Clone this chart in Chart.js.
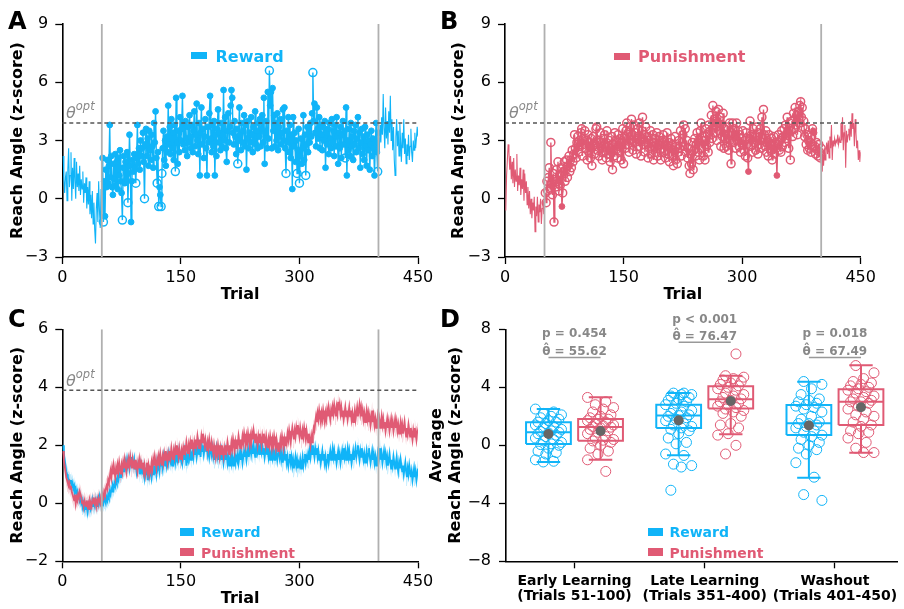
<!DOCTYPE html>
<html>
<head>
<meta charset="utf-8">
<script src="https://cdn.jsdelivr.net/npm/chart.js@4.4.1/dist/chart.umd.min.js"></script>
<style>
  body { margin: 0; background: #fff; }
  #fig { position: relative; width: 904px; height: 609px; overflow: hidden; font-family: "DejaVu Sans", sans-serif; }
  #fig canvas { position: absolute; }
  .txt { position: absolute; line-height: 1; white-space: nowrap; }
  .letter { font-size: 24px; font-weight: bold; color: #000; }
  .theta { font-size: 16px; font-style: italic; color: #888; }
  .theta span { font-size: 11.5px; position: relative; top: -7.5px; }
  .leg { font-weight: bold; }
  .sw { position: absolute; }
  .pval { font-size: 12px; font-weight: bold; color: #888; transform: translateX(-50%); }
</style>
</head>
<body>
<div id="fig">
  <canvas id="chartA" width="452" height="310" style="left:0;top:0"></canvas>
  <canvas id="chartB" width="464" height="310" style="left:440px;top:0"></canvas>
  <canvas id="chartC" width="452" height="309" style="left:0;top:300px"></canvas>
  <canvas id="chartD" width="484" height="309" style="left:420px;top:300px"></canvas>

  <div class="txt letter" style="left:8px;top:9px">A</div>
  <div class="txt letter" style="left:440px;top:9px">B</div>
  <div class="txt letter" style="left:8px;top:306.5px">C</div>
  <div class="txt letter" style="left:440px;top:306.5px">D</div>

  <div class="txt theta" style="left:66px;top:104.5px">θ<span>opt</span></div>
  <div class="txt theta" style="left:509px;top:104.5px">θ<span>opt</span></div>
  <div class="txt theta" style="left:66px;top:372.5px">θ<span>opt</span></div>

  <div class="sw" style="left:191px;top:52.3px;width:16px;height:7px;background:#10b4f8"></div>
  <div class="txt leg" style="left:215.5px;top:48.6px;font-size:16px;color:#10b4f8">Reward</div>
  <div class="sw" style="left:614px;top:53.3px;width:16px;height:7px;background:#e05a74"></div>
  <div class="txt leg" style="left:638px;top:48.8px;font-size:16px;color:#e05a74">Punishment</div>

  <div class="sw" style="left:180px;top:527.7px;width:14.3px;height:8px;background:#10b4f8"></div>
  <div class="txt leg" style="left:201px;top:525px;font-size:14px;color:#10b4f8">Reward</div>
  <div class="sw" style="left:180px;top:548.3px;width:14.3px;height:8px;background:#e05a74"></div>
  <div class="txt leg" style="left:201px;top:545.6px;font-size:14px;color:#e05a74">Punishment</div>

  <div class="sw" style="left:647.7px;top:527.7px;width:15px;height:8px;background:#10b4f8"></div>
  <div class="txt leg" style="left:669.4px;top:525px;font-size:14px;color:#10b4f8">Reward</div>
  <div class="sw" style="left:647.7px;top:548.3px;width:15px;height:8px;background:#e05a74"></div>
  <div class="txt leg" style="left:669.4px;top:545.6px;font-size:14px;color:#e05a74">Punishment</div>
</div>

<script>
// trial numbers and task phases
const trials = Array.from({ length: 450 }, (_, i) => i + 1);
const phaseBounds = [50, 400];
const thetaOpt = 3.9;

// panel A: single reward participant
const rewardReach = [
  2.2,1.0,0.3,1.1,1.4,-0.1,1.5,2.6,0.6,1.2,
  2.4,-0.1,1.6,0.5,2.1,0.9,0.0,1.9,0.6,1.3,
  0.4,1.7,0.2,1.0,0.5,1.4,-0.2,0.8,0.3,1.1,
  -0.5,0.6,-0.3,0.9,-0.8,0.2,-1.0,0.4,-1.3,-0.2,
  -1.6,-2.3,-0.5,0.3,-1.2,0.9,-0.6,-1.5,0.5,-0.8,
  2.1,-1.2,0.9,-0.9,1.5,0.6,2.0,0.8,1.7,3.8,
  1.1,2.2,0.6,0.2,1.8,1.0,2.3,0.7,1.9,0.5,
  2.1,1.2,2.5,0.9,0.3,-1.1,1.6,2.2,0.8,1.9,
  1.0,2.4,-0.2,1.3,3.3,1.7,-1.2,0.9,2.0,1.4,
  2.3,1.6,0.8,2.1,3.8,1.8,2.6,1.5,3.0,2.2,
  2.6,3.4,1.9,0.0,2.8,3.6,2.2,3.1,1.7,3.5,
  2.5,2.0,3.3,2.7,1.6,3.9,2.9,4.5,2.1,0.8,
  2.4,-0.4,0.6,0.2,-0.4,1.3,2.6,3.5,2.0,3.0,
  1.7,3.2,2.4,4.8,2.8,3.7,2.3,4.1,2.6,3.4,
  2.0,3.8,1.4,5.2,2.9,1.8,3.5,2.4,4.2,3.0,
  3.6,5.3,2.8,3.9,2.5,4.0,3.1,2.2,3.7,2.9,
  4.3,3.2,2.6,3.8,2.4,3.5,4.5,2.7,3.3,4.9,
  3.0,2.3,3.9,1.2,3.4,4.7,2.8,3.6,2.1,3.2,
  4.1,2.6,1.2,3.7,2.9,4.4,5.3,3.1,2.4,3.8,
  2.7,4.0,1.2,3.3,2.2,3.6,4.6,2.9,3.4,2.5,
  3.9,2.7,3.3,5.6,3.0,4.2,2.6,1.9,3.5,4.4,
  2.9,3.7,4.8,5.6,5.2,3.4,2.8,4.0,3.2,2.3,
  3.6,1.8,3.0,4.7,3.3,2.5,3.9,2.9,3.5,4.3,
  2.7,3.8,1.5,3.1,4.0,2.6,3.4,2.9,4.2,3.3,
  2.4,3.7,3.0,4.5,2.8,3.5,2.6,3.9,3.2,4.1,
  2.7,3.6,4.3,2.9,5.2,1.8,3.4,4.0,2.6,5.5,
  3.1,6.6,4.8,5.5,2.6,5.7,3.5,4.3,2.7,3.9,
  3.0,4.4,2.5,3.7,3.2,4.1,2.8,3.4,4.6,3.0,
  4.7,2.6,1.3,3.5,2.9,4.2,2.4,3.8,2.1,3.3,
  0.5,4.2,2.7,3.4,1.9,3.0,1.3,2.5,3.6,0.8,
  2.2,3.1,1.8,2.6,4.3,2.0,3.3,1.2,2.8,3.7,
  2.4,3.5,2.9,3.9,3.2,4.4,6.5,4.0,4.9,3.4,
  2.7,4.7,3.6,3.1,4.2,2.6,3.8,3.3,2.5,3.7,
  3.0,4.0,1.6,3.4,2.8,3.6,2.3,3.9,3.1,2.6,
  4.1,2.9,3.5,2.2,3.8,2.7,4.2,3.2,1.8,3.4,
  2.6,3.7,2.1,3.3,4.0,2.8,3.5,2.1,4.7,1.2,
  3.0,2.5,3.6,2.2,3.9,2.7,3.2,2.0,3.5,2.8,
  3.8,2.4,3.1,4.2,2.6,3.4,1.6,2.9,3.6,2.3,
  3.2,2.0,3.7,2.7,1.7,3.3,2.5,3.0,1.5,2.8,
  3.5,2.2,3.1,2.6,1.2,2.9,3.9,2.4,1.4,3.4,
  2.4,3.8,2.9,4.2,3.3,5.4,3.6,2.6,4.7,3.1,
  4.0,2.8,4.5,3.4,5.3,3.0,4.1,2.5,3.7,2.0,
  1.2,3.2,4.1,2.7,3.5,2.2,3.9,2.9,1.9,3.4,
  2.6,4.1,2.3,3.1,1.8,2.8,2.2,3.3,2.0,2.7,
  3.6,2.4,1.9,3.0,2.5,3.4,2.6,3.1,3.7,3.2
];
const rewardOpenTrials = [52,76,83,93,104,120,122,125,126,143,222,262,283,297,300,308,317,358,399];

// panel B: single punishment participant
const punishReach = [
  -0.6,1.2,2.0,2.8,2.4,1.5,2.2,1.0,1.9,0.8,
  2.1,0.6,1.5,0.9,2.3,0.4,1.2,0.7,1.6,0.2,
  1.0,0.5,1.5,-0.1,1.3,0.3,0.9,-0.3,0.6,-0.5,
  0.4,-0.8,0.0,-1.0,-0.2,-0.6,0.1,-1.7,-0.4,-0.9,
  0.1,-1.2,-0.3,-0.7,0.0,-1.3,-0.5,-0.1,-0.8,0.3,
  0.3,-0.2,0.9,0.4,1.1,1.6,0.5,2.9,0.8,0.2,
  1.3,-1.2,1.0,0.6,1.5,0.9,1.9,0.4,1.2,0.7,
  1.6,-0.4,0.3,1.4,1.9,0.9,1.5,2.0,1.1,1.7,
  2.2,1.4,2.0,1.6,2.5,1.9,2.3,3.3,2.6,2.1,
  2.9,3.2,2.4,3.0,2.7,3.4,3.6,2.2,3.1,2.8,
  3.5,2.6,3.0,2.0,3.3,2.4,2.9,2.1,3.1,1.7,
  2.7,3.2,2.3,2.8,3.6,3.7,2.5,3.0,2.2,2.9,
  3.4,2.6,2.0,3.1,2.4,3.3,2.8,2.1,3.5,2.7,
  2.3,3.0,1.9,2.6,3.2,1.5,2.8,2.2,3.4,2.5,
  3.0,2.1,3.3,2.7,2.4,3.1,2.0,2.9,3.6,1.8,
  3.2,2.6,3.5,3.9,2.8,3.4,2.4,3.7,3.0,4.1,
  3.3,2.5,3.8,2.9,3.4,2.3,3.1,3.6,2.7,3.9,
  3.0,2.2,3.5,4.2,2.8,3.3,2.4,3.7,2.9,3.2,
  2.1,3.0,2.6,3.5,2.3,2.9,3.3,2.0,2.7,3.1,
  2.4,3.4,2.2,2.8,3.2,2.5,2.0,3.0,2.6,3.3,
  2.4,3.0,2.1,2.7,3.4,2.3,2.9,1.9,2.6,3.1,
  2.2,2.8,1.7,2.5,3.2,2.0,2.7,1.8,2.4,3.0,
  2.6,3.5,2.2,2.9,3.3,3.8,2.7,3.6,2.4,3.0,
  2.1,2.6,1.7,1.3,2.3,1.8,2.9,1.5,2.5,3.1,
  2.2,2.8,3.4,2.4,3.0,2.0,3.5,3.9,2.6,3.2,
  2.2,3.0,2.0,3.6,2.7,3.3,2.4,3.8,2.9,3.5,
  4.3,3.1,4.8,3.7,4.1,3.4,4.5,3.0,3.9,4.6,
  3.5,4.2,2.7,3.8,3.2,4.4,2.6,3.6,3.1,2.7,
  3.7,3.3,2.5,3.9,3.0,1.8,3.4,3.9,2.9,3.6,
  3.2,2.6,3.9,3.0,3.5,2.7,3.3,2.4,3.1,2.8,
  3.5,2.5,3.0,2.2,3.4,2.8,2.1,1.4,3.1,4.0,
  2.7,3.3,2.4,3.6,2.9,3.2,2.5,3.7,3.0,2.3,
  3.4,2.8,3.6,2.6,4.2,3.1,4.6,3.3,2.7,3.5,
  2.4,3.0,2.2,3.3,2.8,2.5,3.1,2.0,2.7,3.2,
  2.3,2.9,2.6,1.2,2.8,3.3,2.5,3.0,2.4,3.5,
  2.7,3.2,3.6,2.9,3.8,3.1,4.2,3.4,2.6,3.9,
  2.0,3.5,4.0,3.2,4.4,3.6,4.7,3.8,4.3,3.3,
  4.5,3.9,4.8,5.0,4.2,4.7,3.7,4.0,3.2,3.6,
  2.8,3.3,2.5,3.0,2.6,2.9,2.4,3.2,3.6,3.5,
  3.4,2.7,2.3,2.9,2.5,2.2,2.8,2.4,2.1,2.6,
  1.4,2.2,1.7,2.6,2.0,2.5,2.9,2.3,3.0,2.1,
  3.2,2.6,3.8,2.0,3.0,2.7,3.1,2.8,3.0,2.9,
  3.3,2.8,3.1,2.9,3.9,3.0,4.2,2.5,3.4,3.8,
  1.6,3.5,2.9,3.3,3.6,3.0,4.0,3.2,4.4,3.6,
  3.9,2.7,4.1,3.4,2.6,3.0,2.0,2.5,1.9,2.4
];
const punishFilledTrials = [72, 308, 344, 390, 391];

// panel C: group means
const rewardMeanReach = [
  2.0,1.7,1.5,1.3,1.1,1.0,0.9,0.8,0.8,0.7,
  0.8,0.6,0.7,0.5,0.6,0.4,0.5,0.3,0.4,0.2,
  0.3,0.1,0.2,0.0,0.1,-0.1,0.0,-0.2,-0.1,-0.2,
  -0.1,-0.3,-0.1,-0.2,0.0,-0.2,-0.1,0.1,-0.1,0.0,
  -0.1,0.1,0.0,-0.1,0.1,0.0,0.2,0.0,0.1,-0.1,
  0.1,0.0,0.2,0.1,0.0,0.2,0.1,0.3,0.2,0.4,
  0.3,0.5,0.4,0.6,0.5,0.7,0.6,0.8,0.7,0.9,
  0.8,1.0,0.9,1.1,1.0,1.2,1.1,1.3,1.2,1.4,
  1.2,1.5,1.3,1.4,1.2,1.5,1.3,1.6,1.4,1.3,
  1.5,1.2,1.4,1.1,1.3,1.2,1.4,1.0,1.3,1.1,
  1.2,1.0,1.3,0.9,1.1,1.0,1.2,0.8,1.1,0.9,
  1.0,1.2,0.9,1.1,1.0,1.3,1.1,1.2,1.0,1.4,
  1.2,1.3,1.1,1.5,1.3,1.4,1.2,1.6,1.4,1.3,
  1.5,1.3,1.6,1.4,1.7,1.5,1.4,1.6,1.3,1.7,
  1.5,1.8,1.4,1.6,1.5,1.7,1.4,1.8,1.6,1.5,
  1.7,1.4,1.6,1.8,1.5,1.7,1.3,1.6,1.5,1.8,
  1.6,1.9,1.5,1.7,1.8,1.6,2.0,1.7,1.9,1.6,
  1.8,2.0,1.7,1.9,1.6,2.1,1.8,2.0,1.7,1.9,
  2.1,1.8,2.0,1.7,1.9,1.6,1.8,2.0,1.7,1.9,
  1.6,1.8,1.5,1.7,1.9,1.6,1.8,1.5,1.7,1.6,
  1.8,1.5,1.7,1.4,1.6,1.8,1.5,1.7,1.4,1.6,
  1.3,1.5,1.7,1.4,1.6,1.3,1.5,1.7,1.4,1.6,
  1.5,1.7,1.4,1.6,1.8,1.5,1.7,1.4,1.6,1.8,
  1.6,1.8,1.5,1.7,1.9,1.6,1.8,2.0,1.7,1.9,
  1.7,2.0,1.8,1.6,1.9,2.1,1.8,2.0,1.7,1.9,
  2.1,1.8,2.0,1.7,1.9,1.6,1.8,2.0,1.7,1.9,
  1.6,1.8,1.5,1.7,1.9,1.6,1.8,1.5,1.7,1.6,
  1.8,1.5,1.7,1.9,1.6,1.8,1.5,1.7,1.4,1.6,
  1.8,1.5,1.7,1.4,1.6,1.3,1.5,1.7,1.4,1.6,
  1.3,1.5,1.2,1.4,1.6,1.3,1.5,1.2,1.4,1.3,
  1.5,1.2,1.4,1.6,1.3,1.5,1.7,1.4,1.6,1.5,
  1.7,1.5,1.8,1.6,1.9,1.7,2.0,1.8,1.6,1.9,
  1.7,1.9,1.6,1.8,1.5,1.7,1.4,1.6,1.8,1.5,
  1.7,1.4,1.6,1.3,1.5,1.7,1.4,1.6,1.8,1.5,
  1.7,1.9,1.6,1.8,1.5,1.7,1.4,1.6,1.8,1.5,
  1.7,1.4,1.6,1.8,1.5,1.9,1.6,1.8,1.5,1.7,
  1.9,1.6,1.8,1.5,1.7,1.4,1.6,1.8,1.5,1.7,
  1.9,1.6,1.8,2.0,1.7,1.5,1.8,1.6,1.9,1.7,
  1.5,1.7,1.4,1.6,1.8,1.5,1.7,1.9,1.6,1.4,
  1.6,1.8,1.5,1.7,1.4,1.6,1.3,1.5,1.7,1.4,
  1.6,1.9,1.5,1.7,1.4,1.6,1.8,1.5,1.7,1.4,
  1.6,1.3,1.5,1.7,1.4,1.2,1.5,1.3,1.6,1.4,
  1.2,1.4,1.6,1.3,1.1,1.4,1.2,1.5,1.3,1.1,
  1.3,1.0,1.2,1.4,1.1,0.9,1.2,1.0,1.3,1.1,
  0.9,1.1,0.8,1.0,1.2,0.9,1.1,0.8,1.0,1.2
];
const punishMeanReach = [
  1.8,1.5,1.3,1.1,0.9,0.8,0.7,0.6,0.7,0.5,
  0.6,0.4,0.3,0.2,0.1,0.3,0.0,0.2,0.1,0.3,
  0.2,0.4,0.3,0.2,0.0,0.1,-0.1,0.1,0.0,-0.1,
  0.1,-0.1,0.0,-0.2,0.1,0.0,-0.1,0.1,0.0,0.2,
  0.0,0.1,-0.1,0.1,0.0,0.2,0.1,0.0,0.2,0.1,
  0.3,0.2,0.4,0.3,0.5,0.6,0.5,0.8,0.7,0.9,
  1.1,0.9,1.2,1.0,1.3,1.1,0.9,1.2,1.0,1.3,
  1.1,1.4,1.2,1.0,1.3,1.1,1.4,1.2,1.5,1.3,
  1.1,1.4,1.2,1.5,1.3,1.6,1.4,1.2,1.5,1.3,
  1.4,1.2,1.5,1.3,1.1,1.4,1.2,1.5,1.3,1.4,
  1.2,1.4,1.1,1.3,1.0,1.2,1.4,1.1,1.3,1.0,
  1.2,1.1,1.4,1.2,1.5,1.3,1.6,1.4,1.2,1.5,
  1.3,1.6,1.4,1.7,1.5,1.3,1.6,1.4,1.7,1.5,
  1.8,1.6,1.4,1.7,1.5,1.8,1.6,1.9,1.7,1.5,
  1.8,1.6,1.9,1.7,2.0,1.8,1.6,1.9,1.7,1.5,
  1.8,1.6,1.9,1.7,2.0,1.8,2.1,1.9,1.7,2.0,
  1.8,2.1,1.9,2.2,2.0,1.8,2.1,1.9,2.2,2.0,
  2.3,2.1,1.9,2.2,2.0,2.3,2.1,2.4,2.2,2.0,
  2.2,2.0,1.8,2.1,1.9,2.2,2.0,1.8,2.1,1.9,
  1.7,2.0,1.8,1.6,1.9,1.7,2.0,1.8,1.6,1.9,
  1.7,2.0,1.8,1.6,1.9,1.7,2.0,1.8,2.1,1.9,
  1.7,2.0,1.8,2.1,1.9,2.2,2.0,1.8,2.1,1.9,
  2.2,2.0,2.3,2.1,1.9,2.2,2.0,2.3,2.1,2.4,
  2.2,2.0,2.3,2.1,2.4,2.2,2.0,2.3,2.1,2.4,
  2.2,2.5,2.3,2.1,2.4,2.2,2.0,2.3,2.1,2.4,
  2.2,2.0,2.3,2.1,2.4,2.2,2.0,2.3,2.1,1.9,
  2.2,2.0,2.3,2.1,1.9,2.2,2.0,2.3,2.1,1.9,
  2.2,2.0,1.8,2.1,1.9,2.2,2.0,2.3,2.1,1.9,
  2.2,2.0,2.3,2.1,2.4,2.2,2.5,2.3,2.1,2.4,
  2.6,2.4,2.2,2.5,2.3,2.6,2.4,2.7,2.5,2.3,
  2.6,2.4,2.2,2.5,2.3,2.6,2.4,2.2,2.5,2.3,
  2.1,2.4,2.2,2.0,2.3,2.1,2.4,2.6,2.5,2.8,
  3.0,2.8,3.1,2.9,3.2,3.0,2.8,3.1,2.9,3.2,
  3.0,2.8,3.1,2.9,3.2,3.0,3.3,3.1,2.9,3.2,
  3.0,3.3,3.1,3.4,3.2,3.0,3.3,3.1,3.5,3.2,
  3.4,3.1,3.3,3.0,3.2,2.9,3.1,3.3,3.0,3.2,
  2.9,3.1,3.3,3.0,3.2,2.9,3.1,2.8,3.0,3.2,
  2.9,3.1,3.3,3.0,3.2,3.4,3.1,3.3,3.0,3.2,
  2.9,3.1,2.8,3.0,3.2,2.9,3.1,2.8,3.0,2.7,
  2.9,3.2,2.8,3.0,2.7,2.9,2.6,2.8,3.0,2.7,
  2.9,2.6,2.8,3.0,2.7,2.9,2.6,2.8,2.5,2.7,
  2.9,2.6,2.8,2.5,2.7,2.9,2.6,2.8,2.5,2.7,
  2.9,2.6,2.8,2.5,2.7,2.4,2.6,2.8,2.5,2.7,
  2.4,2.6,2.8,2.5,2.3,2.6,2.4,2.7,2.5,2.3,
  2.6,2.4,2.2,2.5,2.3,2.6,2.4,2.2,2.5,2.4
];
const rewardSem = 0.3;
const punishSem = 0.3;

// panel D: phase averages
const phaseNames = ['Early Learning', 'Late Learning', 'Washout'];
const phaseTrials = ['(Trials 51-100)', '(Trials 351-400)', '(Trials 401-450)'];
const rewardQ1 = [0.09, 1.2, 0.71];
const rewardMedian = [0.9, 2.05, 1.52];
const rewardQ3 = [1.59, 2.8, 2.78];
const rewardLow = [-1.15, -0.69, -2.23];
const rewardHigh = [2.5, 3.6, 4.39];
const rewardAvg = [0.78, 1.72, 1.36];
const punishQ1 = [0.32, 2.53, 1.4];
const punishMedian = [1.26, 3.17, 3.01];
const punishQ3 = [1.82, 4.07, 3.86];
const punishLow = [-0.99, 0.76, -0.51];
const punishHigh = [3.31, 4.8, 5.52];
const punishAvg = [0.99, 3.06, 2.62];
const rewardSubjects = [
  [2.5,2.3,2.2,2.1,2.0,1.9,1.8,1.7,1.6,1.6,1.5,1.4,1.3,1.2,1.1,1.0,0.95,0.9,0.85,0.8,0.7,0.6,0.5,0.4,0.3,0.2,0.1,0.05,0.0,-0.2,-0.4,-0.5,-0.6,-1.0,-1.1,-1.15],
  [3.6,3.6,3.5,3.5,3.4,3.3,3.2,3.1,3.0,2.9,2.8,2.7,2.5,2.4,2.3,2.2,2.1,2.05,2.0,1.9,1.8,1.7,1.5,1.4,1.3,1.2,1.1,1.0,0.8,0.5,0.2,0.1,-0.6,-0.7,-1.3,-1.4,-1.5,-3.1],
  [4.4,4.2,3.9,3.5,3.2,3.1,3.0,2.9,2.8,2.7,2.6,2.5,2.3,2.0,1.8,1.6,1.5,1.5,1.4,1.3,1.2,1.0,0.9,0.7,0.6,0.4,0.2,0.0,-0.2,-0.3,-0.6,-1.2,-2.2,-3.4,-3.8]
];
const punishSubjects = [
  [3.3,3.0,2.8,2.6,2.5,2.3,2.1,2.0,1.9,1.8,1.8,1.7,1.6,1.5,1.4,1.35,1.3,1.25,1.2,1.1,1.0,0.9,0.8,0.6,0.5,0.4,0.35,0.3,0.2,0.0,-0.2,-0.4,-0.6,-1.0,-1.8],
  [6.3,4.8,4.7,4.6,4.5,4.4,4.3,4.2,4.1,4.0,3.9,3.8,3.6,3.5,3.4,3.3,3.2,3.1,3.0,2.9,2.8,2.7,2.6,2.5,2.4,2.3,2.2,2.0,1.5,1.4,1.2,0.8,0.7,0.0,-0.6],
  [5.5,5.0,4.6,4.4,4.3,4.2,4.1,4.0,3.9,3.8,3.7,3.6,3.4,3.3,3.2,3.1,3.0,3.0,2.9,2.7,2.5,2.3,2.1,2.0,1.8,1.6,1.4,1.3,1.0,0.9,0.8,0.5,0.2,-0.2,-0.5,-0.5]
];
const pValueText = ['p = 0.454', 'p < 0.001', 'p = 0.018'];
const thetaHatText = ['55.62', '76.47', '67.49'];
const compareLineY = [6.05, 7.1, 6.05];

const REWARD = '#10b4f8';
const PUNISH = '#e05a74';
const REWARD_BAND = 'rgba(16,180,248,0.25)';
const PUNISH_BAND = 'rgba(224,90,116,0.25)';
const CLEAR = 'rgba(0,0,0,0)';

Chart.defaults.font.family = '"DejaVu Sans", sans-serif';
Chart.defaults.color = '#000';
Chart.defaults.animation = false;
Chart.defaults.plugins.legend.display = false;
Chart.defaults.plugins.tooltip.enabled = false;
Chart.defaults.events = [];

const minusFmt = v => (v < 0 ? '\u2212' + Math.abs(v) : String(v));

function axis(o) {
  return {
    type: 'linear', min: o.min, max: o.max, bounds: 'data',
    afterFit: o.fit,
    afterBuildTicks: o.build,
    grid: { display: true, drawOnChartArea: false, drawTicks: true, tickLength: 7, tickWidth: 1.3, color: '#000' },
    border: { display: true, color: '#000', width: 1.6 },
    ticks: Object.assign({ color: '#000', font: { size: 16 }, padding: o.pad, stepSize: o.step,
      callback: minusFmt, maxRotation: 0, autoSkip: false }, o.ticks || {}),
    title: o.title
      ? { display: true, text: o.title, color: '#000', font: { size: 16, weight: 'bold' }, padding: o.titlePad }
      : { display: false }
  };
}

function baseOptions(pad, x, y) {
  return {
    responsive: false, maintainAspectRatio: false, devicePixelRatio: 1,
    layout: { padding: pad },
    elements: { line: { tension: 0 } },
    scales: { x: axis(x), y: axis(y) }
  };
}

function refLines(yMin, yMax) {
  const base = { pointRadius: 0, fill: false, borderCapStyle: 'butt' };
  return [
    Object.assign({}, base, { data: [{ x: 0, y: thetaOpt }, { x: 450, y: thetaOpt }],
      borderColor: '#555', borderWidth: 1.5, borderDash: [4, 3] }),
    ...phaseBounds.map(b => Object.assign({}, base, { data: [{ x: b, y: yMin }, { x: b, y: yMax }],
      borderColor: '#b0b0b0', borderWidth: 1.8 }))
  ];
}

const inLearning = t => t > phaseBounds[0] && t <= phaseBounds[1];

function trialChart(id, values, color, isFilled, pad, yWidth, yTitlePad) {
  const pts = values.map((v, i) => ({ x: trials[i], y: v }));
  return new Chart(document.getElementById(id), {
    type: 'line',
    data: { datasets: [
      ...refLines(-3, 9),
      { data: pts, borderColor: color, borderWidth: 1.1, fill: false,
        segment: { borderWidth: s => inLearning(trials[s.p0DataIndex]) ? 1.4 : 1.1 },
        pointRadius: c => (c.raw && inLearning(c.raw.x)) ? (isFilled(c.raw.x) ? 2.9 : 4) : 0,
        pointBackgroundColor: c => (c.raw && isFilled(c.raw.x)) ? color : CLEAR,
        pointBorderColor: color,
        pointBorderWidth: c => (c.raw && isFilled(c.raw.x)) ? 1 : 1.5,
        pointHoverRadius: 0 }
    ]},
    options: baseOptions(pad,
      { min: 0, max: 450, step: 150, pad: 4, fit: s => { s.height = 53; },
        title: 'Trial', titlePad: { top: 0, bottom: 5.4 } },
      { min: -3, max: 9, step: 3, pad: 7, fit: s => { s.width = yWidth; },
        title: 'Reach Angle (z-score)', titlePad: { top: yTitlePad, bottom: 0 } })
  });
}

trialChart('chartA', rewardReach, REWARD, t => !rewardOpenTrials.includes(t),
  { left: 0, right: 34, top: 24, bottom: 0 }, 62.3, 8);
trialChart('chartB', punishReach, PUNISH, t => punishFilledTrials.includes(t),
  { left: 0, right: 43.3, top: 24, bottom: 0 }, 65, 9.6);

// panel C
const toPts = (arr, add) => arr.map((v, i) => ({ x: trials[i], y: v + add }));
const meanLine = (arr, color) => ({ data: toPts(arr, 0), borderColor: color, borderWidth: 1.8, pointRadius: 0, fill: false });
const bandEdge = (arr, add, fill, bg) => ({ data: toPts(arr, add), borderColor: CLEAR, borderWidth: 0.01,
  pointRadius: 0, fill: fill, backgroundColor: bg });

new Chart(document.getElementById('chartC'), {
  type: 'line',
  data: { datasets: [
    ...refLines(-2, 6),
    meanLine(punishMeanReach, PUNISH),
    meanLine(rewardMeanReach, REWARD),
    bandEdge(punishMeanReach, punishSem, '+1', PUNISH_BAND),
    bandEdge(punishMeanReach, -punishSem, false, CLEAR),
    bandEdge(rewardMeanReach, rewardSem, '+1', REWARD_BAND),
    bandEdge(rewardMeanReach, -rewardSem, false, CLEAR)
  ]},
  options: baseOptions({ left: 0, right: 34, top: 29.3, bottom: 0 },
    { min: 0, max: 450, step: 150, pad: 4, fit: s => { s.height = 47.7; },
      title: 'Trial', titlePad: { top: 0, bottom: 0.4 } },
    { min: -2, max: 6, step: 2, pad: 7, fit: s => { s.width = 62.3; },
      title: 'Reach Angle (z-score)', titlePad: { top: 8.7, bottom: 0 } })
});

// panel D
const sideShift = 0.2, boxHalf = 0.172, capHalf = 0.09;
const jitter = i => (((i * 7) % 11) / 10 - 0.5) * 0.2;

function boxOutline(q1, med, q3, lo, hi, side) {
  const pts = [];
  const seg = list => { list.forEach(p => pts.push({ x: p[0], y: p[1] })); pts.push({ x: list[list.length - 1][0], y: null }); };
  q1.forEach((_, g) => {
    const c = g + side * sideShift;
    seg([[c - boxHalf, q1[g]], [c + boxHalf, q1[g]], [c + boxHalf, q3[g]], [c - boxHalf, q3[g]], [c - boxHalf, q1[g]]]);
    seg([[c - boxHalf, med[g]], [c + boxHalf, med[g]]]);
    seg([[c, q1[g]], [c, lo[g]]]);
    seg([[c - capHalf, lo[g]], [c + capHalf, lo[g]]]);
    seg([[c, q3[g]], [c, hi[g]]]);
    seg([[c - capHalf, hi[g]], [c + capHalf, hi[g]]]);
  });
  return pts;
}

function subjectPts(groups, side) {
  const pts = [];
  groups.forEach((vals, g) => vals.forEach((v, i) => pts.push({ x: g + side * sideShift + jitter(i + g), y: v })));
  return pts;
}

const comparePts = [];
compareLineY.forEach((y, g) => {
  comparePts.push({ x: g - sideShift, y: y }, { x: g + sideShift, y: y }, { x: g + sideShift, y: null });
});

const chartD = new Chart(document.getElementById('chartD'), {
  type: 'line',
  data: { datasets: [
    { data: comparePts, borderColor: '#999', borderWidth: 1.5, pointRadius: 0, fill: false, spanGaps: false },
    { data: rewardAvg.map((v, g) => ({ x: g - sideShift, y: v })).concat(punishAvg.map((v, g) => ({ x: g + sideShift, y: v }))),
      showLine: false, pointRadius: 5, pointBackgroundColor: '#666', pointBorderColor: '#666', pointBorderWidth: 0 },
    { data: boxOutline(rewardQ1, rewardMedian, rewardQ3, rewardLow, rewardHigh, -1), borderColor: REWARD,
      borderWidth: 2, pointRadius: 0, fill: false, spanGaps: false, borderJoinStyle: 'miter' },
    { data: boxOutline(punishQ1, punishMedian, punishQ3, punishLow, punishHigh, 1), borderColor: PUNISH,
      borderWidth: 2, pointRadius: 0, fill: false, spanGaps: false, borderJoinStyle: 'miter' },
    { data: subjectPts(rewardSubjects, -1), showLine: false, pointRadius: 5,
      pointBackgroundColor: CLEAR, pointBorderColor: REWARD, pointBorderWidth: 1 },
    { data: subjectPts(punishSubjects, 1), showLine: false, pointRadius: 5,
      pointBackgroundColor: CLEAR, pointBorderColor: PUNISH, pointBorderWidth: 1 }
  ]},
  options: baseOptions({ left: 0, right: 0, top: 29.3, bottom: 0 },
    { min: -0.526, max: 2.478, pad: 6, fit: s => { s.height = 47.7; },
      build: s => { s.ticks = phaseNames.map((_, g) => ({ value: g })); },
      ticks: { font: { size: 14, weight: 'bold', lineHeight: 1.07 },
        callback: v => [phaseNames[v], phaseTrials[v]] } },
    { min: -8, max: 8, step: 4, pad: 8, fit: s => { s.width = 86; },
      title: ['Average', 'Reach Angle (z-score)'], titlePad: { top: 7.4, bottom: 0 } })
});

// p-value annotations above each phase
const fig = document.getElementById('fig');
const dLeft = 420;
phaseNames.forEach((_, g) => {
  const x = dLeft + chartD.scales.x.getPixelForValue(g);
  const late = g === 1;
  [[pValueText[g], late ? 313.1 : 327.2], ['\u03b8\u0302 = ' + thetaHatText[g], late ? 329.8 : 344.8]].forEach(([t, top]) => {
    const d = document.createElement('div');
    d.className = 'txt pval';
    d.style.left = x + 'px';
    d.style.top = top + 'px';
    d.textContent = t;
    fig.appendChild(d);
  });
});
</script>
</body>
</html>
